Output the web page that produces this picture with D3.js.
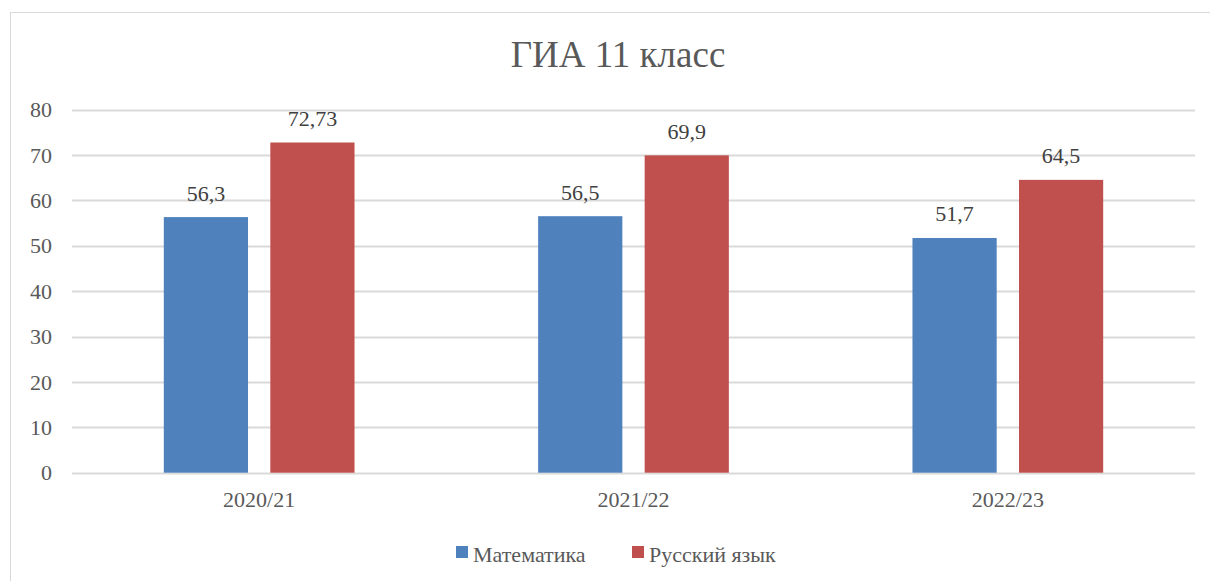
<!DOCTYPE html>
<html><head><meta charset="utf-8">
<script src="https://cdn.jsdelivr.net/npm/d3@7"></script>
<style>body{margin:0;background:#fff} svg text{font-family:"Liberation Serif","Tinos","Times New Roman" !important}</style>
</head><body>
<svg id="chart" width="1210" height="581"></svg>
<script>
const categories = ["2020/21", "2021/22", "2022/23"];
const seriesNames = ["Математика", "Русский язык"];
const mathValues = [56.3, 56.5, 51.7];
const russianValues = [72.73, 69.9, 64.5];
const valueLabels = [["56,3", "56,5", "51,7"], ["72,73", "69,9", "64,5"]];
const yTicks = [0, 10, 20, 30, 40, 50, 60, 70, 80];
const colors = ["#4F81BD", "#C0504D"];
const title = "ГИА 11 класс";

const svg = d3.select("#chart");
function txt(sel) {
  return sel.attr("font-family", "Liberation Serif")
    .each(function () { this.style.setProperty("font-family", '"Liberation Serif", Tinos', "important"); });
}
svg.append("rect").attr("x", 10.5).attr("y", 12.5).attr("width", 1210).attr("height", 600)
  .attr("fill", "#fff").attr("stroke", "#D9D9D9").attr("stroke-width", 1);

const x = d3.scaleBand().domain(categories).range([72, 1195]).paddingInner(0).paddingOuter(0);
const x1 = d3.scaleBand().domain(seriesNames).range([0, x.bandwidth()]).paddingInner(0.2094).paddingOuter(0.862);
const y = d3.scaleLinear().domain([0, 80]).range([472.7, 109.5]);

svg.append("g").selectAll("line").data(yTicks).join("line")
  .attr("x1", 72).attr("x2", 1195)
  .attr("y1", d => Math.round(y(d)) + 0.5).attr("y2", d => Math.round(y(d)) + 0.5)
  .attr("stroke", "#D9D9D9").attr("stroke-width", 2);

txt(svg.append("g").selectAll("text").data(yTicks).join("text")
  .attr("x", 52).attr("y", d => y(d)).attr("dy", "0.35em")
  .attr("text-anchor", "end").attr("font-size", 22).attr("fill", "#595959"))
  .text(d => d);

const allValues = [mathValues, russianValues];
seriesNames.forEach((s, si) => {
  const g = svg.append("g");
  g.selectAll("rect").data(allValues[si]).join("rect")
    .attr("x", (d, i) => x(categories[i]) + x1(s))
    .attr("width", x1.bandwidth())
    .attr("y", d => y(d))
    .attr("height", d => y(0) - y(d))
    .attr("fill", colors[si]);
  txt(g.selectAll("text").data(allValues[si]).join("text")
    .attr("x", (d, i) => x(categories[i]) + x1(s) + x1.bandwidth() / 2)
    .attr("y", d => y(d) - 16.5)
    .attr("text-anchor", "middle").attr("font-size", 22).attr("fill", "#404040"))
    .text((d, i) => valueLabels[si][i]);
});

txt(svg.append("g").selectAll("text").data(categories).join("text")
  .attr("x", d => x(d) + x.bandwidth() / 2).attr("y", 507)
  .attr("text-anchor", "middle").attr("font-size", 22).attr("fill", "#595959"))
  .text(d => d);

txt(svg.append("text").attr("x", 618).attr("y", 67).attr("text-anchor", "middle")
  .attr("font-size", 37).attr("fill", "#595959")).text(title);

const legendX = [456, 632];
seriesNames.forEach((s, si) => {
  svg.append("rect").attr("x", legendX[si]).attr("y", 546).attr("width", 12).attr("height", 12).attr("fill", colors[si]);
  txt(svg.append("text").attr("x", legendX[si] + 17).attr("y", 562).attr("font-size", 22).attr("fill", "#595959")).text(s);
});
</script>
</body></html>
